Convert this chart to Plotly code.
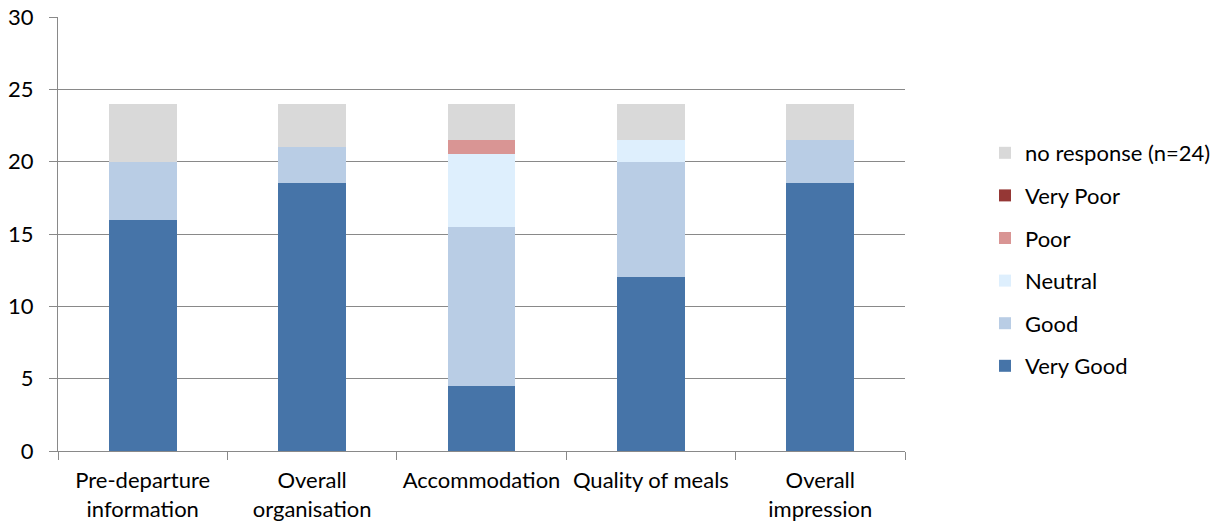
import plotly.graph_objects as go

categories = ["Pre-departure<br>information", "Overall<br>organisation", "Accommodation",
              "Quality of meals", "Overall<br>impression"]
very_good = [16, 18.5, 4.5, 12, 18.5]
good = [4, 2.5, 11, 8, 3]
neutral = [0, 0, 5, 1.5, 0]
poor = [0, 0, 1, 0, 0]
very_poor = [0, 0, 0, 0, 0]
no_response = [4, 3, 2.5, 2.5, 2.5]

series = [
    ("Very Good", very_good, "#4674A8"),
    ("Good", good, "#B9CDE5"),
    ("Neutral", neutral, "#DEEFFD"),
    ("Poor", poor, "#D99594"),
    ("Very Poor", very_poor, "#953735"),
    ("no response (n=24)", no_response, "#D9D9D9"),
]

FONT = "Lato"
W, H = 1217, 527
fig = go.Figure()
for i, (name, vals, col) in enumerate(series):
    fig.add_trace(go.Bar(x=categories, y=vals, name=name, marker_color=col,
                         marker_line_width=0, legendgroup=name,
                         legendrank=len(series) - i))

fig.update_layout(
    barmode="stack",
    bargap=0.6,
    width=W, height=H,
    margin=dict(l=58, r=312, t=17, b=76, autoexpand=False),
    plot_bgcolor="white", paper_bgcolor="white",
    font=dict(family=FONT, color="#000000"),
    legend=dict(traceorder="grouped", tracegroupgap=11,
                font=dict(size=22, family=FONT),
                xref="container", yref="container",
                x=985/W, y=1 - 132/H, xanchor="left", yanchor="top"),
    yaxis=dict(range=[0, 30], dtick=5, showgrid=True, gridcolor="#898989", gridwidth=1,
               showline=True, linecolor="#898989", ticks="outside", ticklen=8,
               tickcolor="#898989", tickfont=dict(size=22, family=FONT), zeroline=False,
               automargin=False, ticklabelstandoff=11, ticklabeloverflow="allow"),
    xaxis=dict(showline=True, linecolor="#898989", ticks="outside", ticklen=8,
               tickcolor="#898989", tickson="boundaries", automargin=False,
               tickfont=dict(size=22, family=FONT), ticklabelstandoff=10,
               ticklabeloverflow="allow"),
)

fig.write_html("out.html", config={"displayModeBar": False},
               post_script="document.body.style.margin='0';document.body.style.overflow='hidden';")
